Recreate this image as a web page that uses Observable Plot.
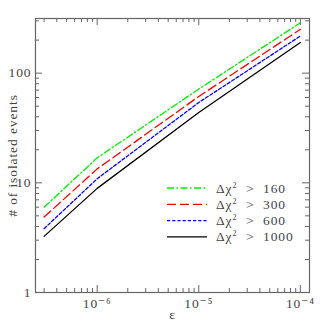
<!DOCTYPE html>
<html>
<head>
<meta charset="utf-8">
<script src="https://cdn.jsdelivr.net/npm/d3@7"></script>
<script src="https://cdn.jsdelivr.net/npm/@observablehq/plot@0.6"></script>
<style>
  html, body { margin: 0; padding: 0; background: #fff; }
  #chart { position: relative; width: 327px; height: 327px; }
  #chart svg text { font-family: "Liberation Serif", "DejaVu Serif", serif !important; font-weight: normal; letter-spacing: 0.9px; }
</style>
</head>
<body>
<div id="chart"></div>
<script>
// ---- data ----
const eps = [3e-7, 1e-6, 1e-5, 1e-4];
const n160 = [6.0, 16.9, 71.6, 288];
const n300 = [4.87, 13.4, 61.3, 251];
const n600 = [3.82, 10.9, 54, 218];
const n1000 = [3.25, 8.9, 43.8, 190];
const seriesNames = ["160", "300", "600", "1000"];
const seriesColors = ["#00ee00", "#ff0000", "#0000ff", "#000000"];
const seriesDash = ["7,2.5,1.5,2.5", "9,4", "3.2,2", null];
const xMajor = [1e-6, 1e-5, 1e-4];
const xMinor = [3e-7,4e-7,5e-7,6e-7,7e-7,8e-7,9e-7,
  2e-6,3e-6,4e-6,5e-6,6e-6,7e-6,8e-6,9e-6,
  2e-5,3e-5,4e-5,5e-5,6e-5,7e-5,8e-5,9e-5];
const yMajor = [1, 10, 100];
const yMinor = [2,3,4,5,6,7,8,9,20,30,40,50,60,70,80,90,200,300];

// ---- layout ----
const W = 327, H = 327, mL = 35, mR = 18, mT = 18, mB = 35;
const pw = W - mL - mR, ph = H - mT - mB;
const axisColor = "#666";
const textColor = "#444";
const font = "Liberation Serif";
const fs = 13.5;

const allSeries = [n160, n300, n600, n1000];
const rows = [];
allSeries.forEach((vals, si) => vals.forEach((v, i) => rows.push({s: si, x: eps[i], y: v})));

const sup = {"-6": "⁻⁶", "-5": "⁻⁵", "-4": "⁻⁴"};

const marks = [];
allSeries.forEach((vals, si) => {
  marks.push(Plot.line(rows.filter(r => r.s === si), {
    x: "x", y: "y", stroke: seriesColors[si], strokeWidth: 1.3,
    strokeDasharray: seriesDash[si] || undefined
  }));
});
const tk = {stroke: axisColor, strokeWidth: 1};
marks.push(
  Plot.tickY(yMajor, {y: d => d, insetRight: pw - 7, ...tk}),
  Plot.tickY(yMajor, {y: d => d, insetLeft: pw - 7, ...tk}),
  Plot.tickY(yMinor, {y: d => d, insetRight: pw - 4, ...tk}),
  Plot.tickY(yMinor, {y: d => d, insetLeft: pw - 4, ...tk}),
  Plot.tickX(xMajor, {x: d => d, insetTop: ph - 7, ...tk}),
  Plot.tickX(xMajor, {x: d => d, insetBottom: ph - 7, ...tk}),
  Plot.tickX(xMinor, {x: d => d, insetTop: ph - 4, ...tk}),
  Plot.tickX(xMinor, {x: d => d, insetBottom: ph - 4, ...tk}),
  Plot.frame({stroke: axisColor, strokeWidth: 1.2}),
  Plot.axisY({ticks: yMajor, tickSize: 0, tickPadding: 4, tickFormat: d => String(d),
    label: "# of isolated events", labelAnchor: "center", labelArrow: "none", labelOffset: 28, fontSize: fs, fill: textColor}),
  Plot.axisX({ticks: xMajor, tickSize: 0, tickPadding: 6, tickFormat: d => "10" + sup[String(Math.round(Math.log10(d)))],
    label: "ε", labelAnchor: "center", labelArrow: "none", labelOffset: 26, fontSize: fs, fill: textColor})
);

const chart = Plot.plot({
  width: W, height: H,
  marginLeft: mL, marginRight: mR, marginTop: mT, marginBottom: mB,
  style: {fontFamily: font, fontSize: fs + "px", color: textColor, background: "#fff"},
  x: {type: "log", domain: [2.47e-7, 1.23e-4]},
  y: {type: "log", domain: [1, 315]},
  marks
});
document.getElementById("chart").appendChild(chart);

// ---- legend (overlay in pixel space) ----
const svg = d3.select(chart);
const lg = svg.append("g").attr("font-size", fs).attr("fill", textColor).attr("text-anchor", "start");
seriesNames.forEach((name, i) => {
  const yy = 188 + i * 16.3;
  lg.append("line").attr("x1", 167).attr("x2", 207).attr("y1", yy).attr("y2", yy)
    .attr("stroke", seriesColors[i]).attr("stroke-width", 1.3)
    .attr("stroke-dasharray", seriesDash[i] || null);
  const t = lg.append("text").attr("x", 216).attr("y", yy + 4.5).attr("fill", textColor)
    .attr("text-anchor", "start").attr("xml:space", "preserve");
  t.append("tspan").text("Δχ");
  t.append("tspan").attr("font-size", 8).attr("dy", -5).text("2");
  t.append("tspan").attr("dy", 5).text("  >  " + name);
});
</script>
</body>
</html>
